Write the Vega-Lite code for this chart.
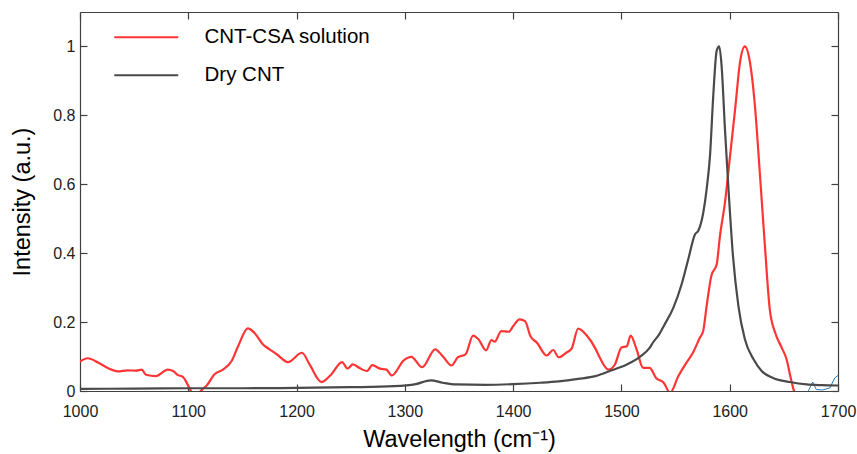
{
  "$schema": "https://vega.github.io/schema/vega-lite/v6.json",
  "width": 758,
  "height": 379,
  "autosize": "none",
  "padding": {"left": 80, "top": 12, "right": 19, "bottom": 63},
  "background": "white",
  "config": {
    "view": {"stroke": null},
    "font": "Liberation Sans",
    "axis": {
      "labelFont": "Liberation Sans",
      "titleFont": "Liberation Sans",
      "labelFontSize": 16,
      "labelColor": "#222222",
      "labelFlush": false,
      "titleFontSize": 23.5,
      "titleFontWeight": "normal",
      "titleColor": "#000000",
      "domainColor": "#404040",
      "domainWidth": 1.2,
      "tickColor": "#404040",
      "tickWidth": 1.2,
      "tickSize": -7,
      "grid": false
    }
  },
  "datasets": {
    "main": [
      {"wl": 1000, "v": 0.085, "series": "CNT-CSA solution"},
      {"wl": 1007, "v": 0.095, "series": "CNT-CSA solution"},
      {"wl": 1017, "v": 0.082, "series": "CNT-CSA solution"},
      {"wl": 1026, "v": 0.066, "series": "CNT-CSA solution"},
      {"wl": 1035, "v": 0.057, "series": "CNT-CSA solution"},
      {"wl": 1044, "v": 0.060, "series": "CNT-CSA solution"},
      {"wl": 1052, "v": 0.059, "series": "CNT-CSA solution"},
      {"wl": 1057, "v": 0.062, "series": "CNT-CSA solution"},
      {"wl": 1061, "v": 0.047, "series": "CNT-CSA solution"},
      {"wl": 1070, "v": 0.043, "series": "CNT-CSA solution"},
      {"wl": 1081, "v": 0.062, "series": "CNT-CSA solution"},
      {"wl": 1086, "v": 0.058, "series": "CNT-CSA solution"},
      {"wl": 1090, "v": 0.047, "series": "CNT-CSA solution"},
      {"wl": 1095, "v": 0.041, "series": "CNT-CSA solution"},
      {"wl": 1101, "v": 0.009, "series": "CNT-CSA solution"},
      {"wl": 1105, "v": -0.012, "series": "CNT-CSA solution"},
      {"wl": 1110, "v": -0.005, "series": "CNT-CSA solution"},
      {"wl": 1113, "v": 0.005, "series": "CNT-CSA solution"},
      {"wl": 1117, "v": 0.016, "series": "CNT-CSA solution"},
      {"wl": 1124, "v": 0.048, "series": "CNT-CSA solution"},
      {"wl": 1132, "v": 0.062, "series": "CNT-CSA solution"},
      {"wl": 1140, "v": 0.087, "series": "CNT-CSA solution"},
      {"wl": 1146, "v": 0.130, "series": "CNT-CSA solution"},
      {"wl": 1155, "v": 0.182, "series": "CNT-CSA solution"},
      {"wl": 1161, "v": 0.169, "series": "CNT-CSA solution"},
      {"wl": 1169, "v": 0.135, "series": "CNT-CSA solution"},
      {"wl": 1175, "v": 0.121, "series": "CNT-CSA solution"},
      {"wl": 1182, "v": 0.106, "series": "CNT-CSA solution"},
      {"wl": 1192, "v": 0.084, "series": "CNT-CSA solution"},
      {"wl": 1205, "v": 0.111, "series": "CNT-CSA solution"},
      {"wl": 1212, "v": 0.077, "series": "CNT-CSA solution"},
      {"wl": 1223, "v": 0.026, "series": "CNT-CSA solution"},
      {"wl": 1232, "v": 0.048, "series": "CNT-CSA solution"},
      {"wl": 1242, "v": 0.084, "series": "CNT-CSA solution"},
      {"wl": 1247, "v": 0.065, "series": "CNT-CSA solution"},
      {"wl": 1252, "v": 0.077, "series": "CNT-CSA solution"},
      {"wl": 1259, "v": 0.065, "series": "CNT-CSA solution"},
      {"wl": 1265, "v": 0.058, "series": "CNT-CSA solution"},
      {"wl": 1270, "v": 0.075, "series": "CNT-CSA solution"},
      {"wl": 1277, "v": 0.065, "series": "CNT-CSA solution"},
      {"wl": 1283, "v": 0.062, "series": "CNT-CSA solution"},
      {"wl": 1288, "v": 0.045, "series": "CNT-CSA solution"},
      {"wl": 1299, "v": 0.089, "series": "CNT-CSA solution"},
      {"wl": 1306, "v": 0.099, "series": "CNT-CSA solution"},
      {"wl": 1316, "v": 0.069, "series": "CNT-CSA solution"},
      {"wl": 1328, "v": 0.121, "series": "CNT-CSA solution"},
      {"wl": 1335, "v": 0.101, "series": "CNT-CSA solution"},
      {"wl": 1343, "v": 0.074, "series": "CNT-CSA solution"},
      {"wl": 1349, "v": 0.098, "series": "CNT-CSA solution"},
      {"wl": 1356, "v": 0.106, "series": "CNT-CSA solution"},
      {"wl": 1363, "v": 0.161, "series": "CNT-CSA solution"},
      {"wl": 1368, "v": 0.150, "series": "CNT-CSA solution"},
      {"wl": 1375, "v": 0.118, "series": "CNT-CSA solution"},
      {"wl": 1380, "v": 0.148, "series": "CNT-CSA solution"},
      {"wl": 1383, "v": 0.143, "series": "CNT-CSA solution"},
      {"wl": 1389, "v": 0.174, "series": "CNT-CSA solution"},
      {"wl": 1396, "v": 0.172, "series": "CNT-CSA solution"},
      {"wl": 1400, "v": 0.188, "series": "CNT-CSA solution"},
      {"wl": 1406, "v": 0.208, "series": "CNT-CSA solution"},
      {"wl": 1411, "v": 0.203, "series": "CNT-CSA solution"},
      {"wl": 1416, "v": 0.159, "series": "CNT-CSA solution"},
      {"wl": 1422, "v": 0.140, "series": "CNT-CSA solution"},
      {"wl": 1431, "v": 0.103, "series": "CNT-CSA solution"},
      {"wl": 1437, "v": 0.119, "series": "CNT-CSA solution"},
      {"wl": 1442, "v": 0.098, "series": "CNT-CSA solution"},
      {"wl": 1449, "v": 0.111, "series": "CNT-CSA solution"},
      {"wl": 1454, "v": 0.123, "series": "CNT-CSA solution"},
      {"wl": 1460, "v": 0.181, "series": "CNT-CSA solution"},
      {"wl": 1468, "v": 0.161, "series": "CNT-CSA solution"},
      {"wl": 1476, "v": 0.123, "series": "CNT-CSA solution"},
      {"wl": 1480, "v": 0.097, "series": "CNT-CSA solution"},
      {"wl": 1488, "v": 0.062, "series": "CNT-CSA solution"},
      {"wl": 1494, "v": 0.077, "series": "CNT-CSA solution"},
      {"wl": 1500, "v": 0.126, "series": "CNT-CSA solution"},
      {"wl": 1505, "v": 0.130, "series": "CNT-CSA solution"},
      {"wl": 1508.5, "v": 0.161, "series": "CNT-CSA solution"},
      {"wl": 1514, "v": 0.121, "series": "CNT-CSA solution"},
      {"wl": 1520, "v": 0.067, "series": "CNT-CSA solution"},
      {"wl": 1526, "v": 0.067, "series": "CNT-CSA solution"},
      {"wl": 1532, "v": 0.038, "series": "CNT-CSA solution"},
      {"wl": 1539, "v": 0.024, "series": "CNT-CSA solution"},
      {"wl": 1545, "v": -0.005, "series": "CNT-CSA solution"},
      {"wl": 1552.5, "v": 0.043, "series": "CNT-CSA solution"},
      {"wl": 1560, "v": 0.082, "series": "CNT-CSA solution"},
      {"wl": 1566, "v": 0.111, "series": "CNT-CSA solution"},
      {"wl": 1572.5, "v": 0.155, "series": "CNT-CSA solution"},
      {"wl": 1575.5, "v": 0.174, "series": "CNT-CSA solution"},
      {"wl": 1578.7, "v": 0.247, "series": "CNT-CSA solution"},
      {"wl": 1583, "v": 0.334, "series": "CNT-CSA solution"},
      {"wl": 1588, "v": 0.368, "series": "CNT-CSA solution"},
      {"wl": 1591, "v": 0.450, "series": "CNT-CSA solution"},
      {"wl": 1595.6, "v": 0.547, "series": "CNT-CSA solution"},
      {"wl": 1600, "v": 0.673, "series": "CNT-CSA solution"},
      {"wl": 1605, "v": 0.818, "series": "CNT-CSA solution"},
      {"wl": 1609.5, "v": 0.954, "series": "CNT-CSA solution"},
      {"wl": 1614, "v": 1.0, "series": "CNT-CSA solution"},
      {"wl": 1618.7, "v": 0.954, "series": "CNT-CSA solution"},
      {"wl": 1623, "v": 0.838, "series": "CNT-CSA solution"},
      {"wl": 1628, "v": 0.624, "series": "CNT-CSA solution"},
      {"wl": 1632.5, "v": 0.421, "series": "CNT-CSA solution"},
      {"wl": 1637, "v": 0.237, "series": "CNT-CSA solution"},
      {"wl": 1642, "v": 0.169, "series": "CNT-CSA solution"},
      {"wl": 1648, "v": 0.126, "series": "CNT-CSA solution"},
      {"wl": 1652.5, "v": 0.092, "series": "CNT-CSA solution"},
      {"wl": 1656, "v": 0.043, "series": "CNT-CSA solution"},
      {"wl": 1659, "v": 0.004, "series": "CNT-CSA solution"},
      {"wl": 1663, "v": -0.03, "series": "CNT-CSA solution"},
      {"wl": 1000, "v": 0.006, "series": "Dry CNT"},
      {"wl": 1050, "v": 0.007, "series": "Dry CNT"},
      {"wl": 1100, "v": 0.008, "series": "Dry CNT"},
      {"wl": 1150, "v": 0.008, "series": "Dry CNT"},
      {"wl": 1200, "v": 0.009, "series": "Dry CNT"},
      {"wl": 1250, "v": 0.011, "series": "Dry CNT"},
      {"wl": 1290, "v": 0.014, "series": "Dry CNT"},
      {"wl": 1310, "v": 0.020, "series": "Dry CNT"},
      {"wl": 1324, "v": 0.031, "series": "Dry CNT"},
      {"wl": 1335, "v": 0.024, "series": "Dry CNT"},
      {"wl": 1347, "v": 0.019, "series": "Dry CNT"},
      {"wl": 1375, "v": 0.018, "series": "Dry CNT"},
      {"wl": 1400, "v": 0.020, "series": "Dry CNT"},
      {"wl": 1425, "v": 0.024, "series": "Dry CNT"},
      {"wl": 1442, "v": 0.028, "series": "Dry CNT"},
      {"wl": 1460, "v": 0.035, "series": "Dry CNT"},
      {"wl": 1476, "v": 0.043, "series": "Dry CNT"},
      {"wl": 1491, "v": 0.060, "series": "Dry CNT"},
      {"wl": 1505, "v": 0.077, "series": "Dry CNT"},
      {"wl": 1517, "v": 0.099, "series": "Dry CNT"},
      {"wl": 1526, "v": 0.125, "series": "Dry CNT"},
      {"wl": 1529, "v": 0.140, "series": "Dry CNT"},
      {"wl": 1535, "v": 0.165, "series": "Dry CNT"},
      {"wl": 1539, "v": 0.188, "series": "Dry CNT"},
      {"wl": 1548, "v": 0.242, "series": "Dry CNT"},
      {"wl": 1555.6, "v": 0.310, "series": "Dry CNT"},
      {"wl": 1561.7, "v": 0.382, "series": "Dry CNT"},
      {"wl": 1568, "v": 0.455, "series": "Dry CNT"},
      {"wl": 1571, "v": 0.465, "series": "Dry CNT"},
      {"wl": 1575.6, "v": 0.518, "series": "Dry CNT"},
      {"wl": 1578.7, "v": 0.586, "series": "Dry CNT"},
      {"wl": 1581.8, "v": 0.683, "series": "Dry CNT"},
      {"wl": 1584.8, "v": 0.857, "series": "Dry CNT"},
      {"wl": 1588, "v": 0.988, "series": "Dry CNT"},
      {"wl": 1590.3, "v": 1.0, "series": "Dry CNT"},
      {"wl": 1592.5, "v": 0.944, "series": "Dry CNT"},
      {"wl": 1595.6, "v": 0.760, "series": "Dry CNT"},
      {"wl": 1598.7, "v": 0.595, "series": "Dry CNT"},
      {"wl": 1603, "v": 0.392, "series": "Dry CNT"},
      {"wl": 1608, "v": 0.247, "series": "Dry CNT"},
      {"wl": 1614, "v": 0.150, "series": "Dry CNT"},
      {"wl": 1622, "v": 0.092, "series": "Dry CNT"},
      {"wl": 1629.5, "v": 0.058, "series": "Dry CNT"},
      {"wl": 1640, "v": 0.038, "series": "Dry CNT"},
      {"wl": 1655.6, "v": 0.026, "series": "Dry CNT"},
      {"wl": 1671, "v": 0.019, "series": "Dry CNT"},
      {"wl": 1685, "v": 0.017, "series": "Dry CNT"},
      {"wl": 1700, "v": 0.016, "series": "Dry CNT"}
    ],
    "extra": [
      {"wl": 1671, "v": -0.01},
      {"wl": 1672.6, "v": 0.0},
      {"wl": 1676.6, "v": 0.026},
      {"wl": 1680, "v": 0.004},
      {"wl": 1686, "v": 0.003},
      {"wl": 1692.5, "v": 0.009},
      {"wl": 1697, "v": 0.038},
      {"wl": 1700, "v": 0.045}
    ]
  },
  "layer": [
    {
      "data": {"name": "extra"},
      "mark": {"type": "line", "clip": true, "color": "#2b7bba", "strokeWidth": 1},
      "encoding": {
        "x": {"field": "wl", "type": "quantitative", "scale": {"domain": [1000, 1700], "nice": false, "zero": false},
          "axis": {"orient": "top", "labels": false, "title": null, "values": [1000,1100,1200,1300,1400,1500,1600,1700]}},
        "y": {"field": "v", "type": "quantitative", "scale": {"domain": [0, 1.1], "nice": false, "zero": false},
          "axis": {"orient": "right", "labels": false, "title": null, "values": [0,0.2,0.4,0.6,0.8,1]}}
      }
    },
    {
      "data": {"name": "main"},
      "mark": {"type": "line", "clip": true, "strokeWidth": 2.2, "interpolate": "monotone"},
      "encoding": {
        "x": {"field": "wl", "type": "quantitative", "scale": {"domain": [1000, 1700], "nice": false, "zero": false},
          "axis": {"orient": "bottom", "title": "Wavelength (cm⁻¹)", "format": "d", "values": [1000,1100,1200,1300,1400,1500,1600,1700], "labelPadding": 19, "titlePadding": 8}},
        "y": {"field": "v", "type": "quantitative", "scale": {"domain": [0, 1.1], "nice": false, "zero": false},
          "axis": {"orient": "left", "title": "Intensity (a.u.)", "format": "~g", "values": [0,0.2,0.4,0.6,0.8,1], "labelPadding": 12, "titlePadding": 18}},
        "color": {"field": "series", "type": "nominal",
          "scale": {"domain": ["CNT-CSA solution", "Dry CNT"], "range": ["#ff3535", "#4a4a4a"]},
          "legend": {
            "orient": "none", "legendX": 56, "legendY": 15, "title": null,
            "symbolType": "M-4,0H4", "symbolSize": 256, "symbolStrokeWidth": 2.2,
            "labelFont": "Liberation Sans", "labelFontSize": 20.5, "labelColor": "#000000", "labelLimit": 400,
            "labelOffset": 48, "rowPadding": 17, "padding": 0
          }
        }
      }
    }
  ],
  "resolve": {"axis": {"x": "independent", "y": "independent"}}
}
